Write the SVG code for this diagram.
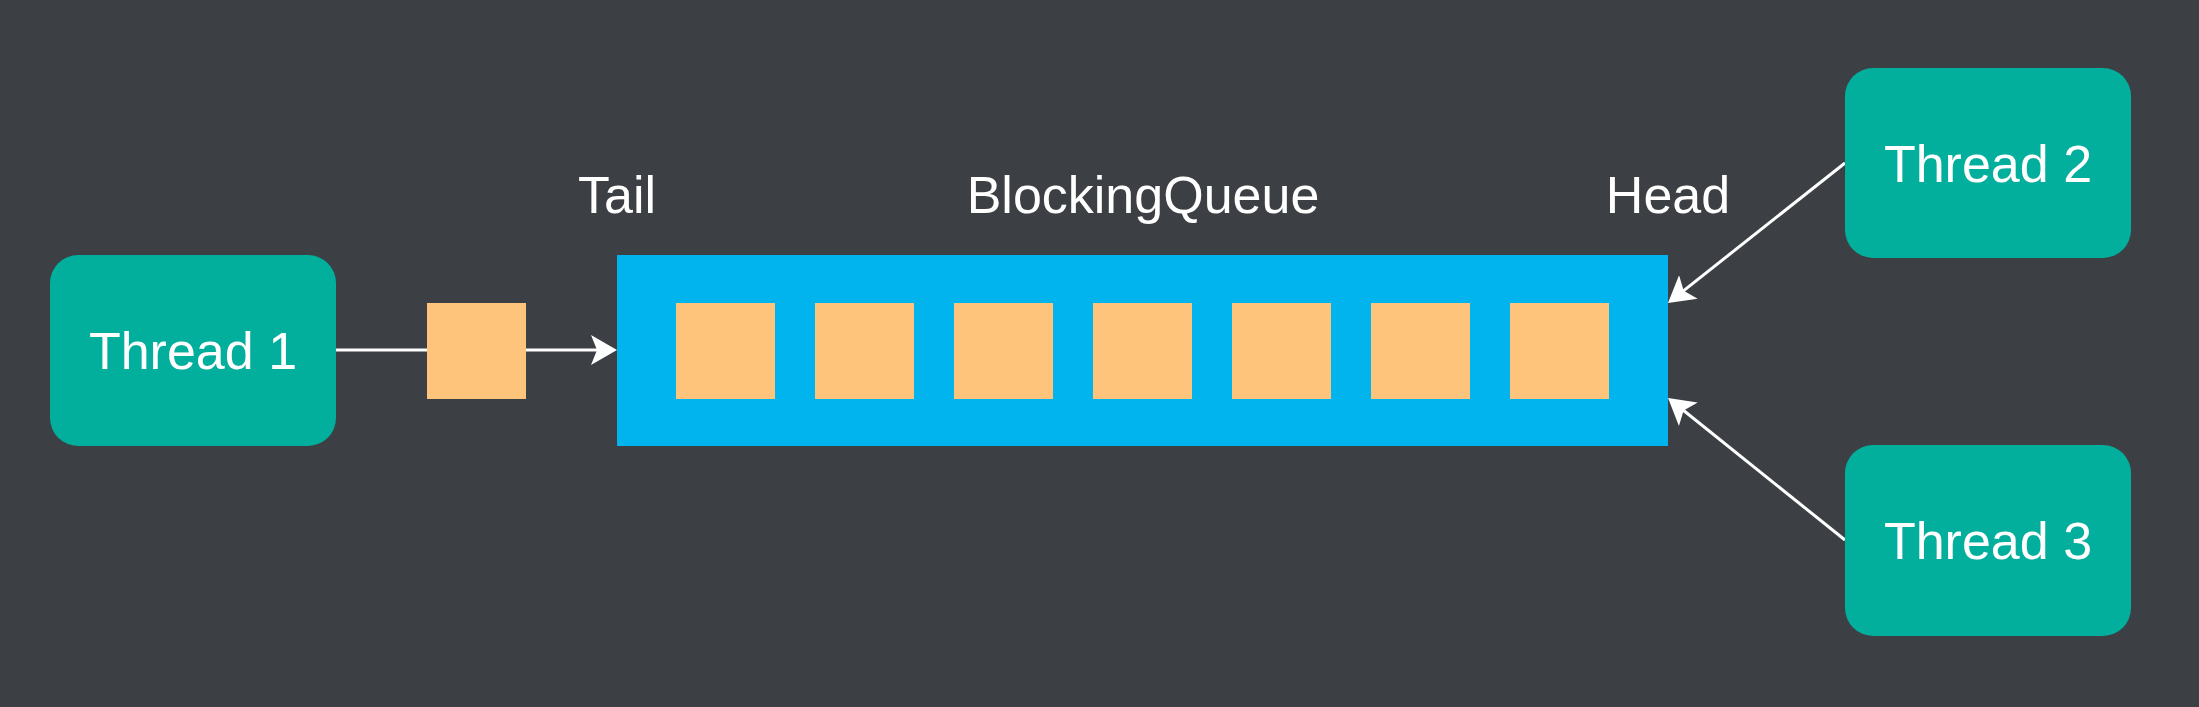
<svg xmlns="http://www.w3.org/2000/svg" width="2199" height="707" viewBox="0 0 2199 707">
  <style>
    .thread { fill: #02AE9C; }
    .item { fill: #FFC47C; }
    .queue { fill: #02B4EE; }
    .lbl { font-family: "Liberation Sans", Arial, sans-serif; font-size: 52px; fill: #ffffff; text-anchor: middle; }
    .conn { stroke: #ffffff; stroke-width: 3; fill: none; }
  </style>
  <defs>
    <marker id="arrow" markerUnits="userSpaceOnUse" viewBox="0 0 26 30" markerWidth="26" markerHeight="30" refX="14" refY="15" orient="auto">
      <path d="M0,0 L26,15 L0,30 L6,15 Z" fill="#ffffff"/>
    </marker>
  </defs>
  <rect x="0" y="0" width="2199" height="707" fill="#3C3F43"/>

  <g id="connectors">
    <path class="conn" d="M336,350 L605,350" marker-end="url(#arrow)"/>
    <path class="conn" d="M1845,163 L1677.4,295.6" marker-end="url(#arrow)"/>
    <path class="conn" d="M1845,540 L1677.4,405.5" marker-end="url(#arrow)"/>
  </g>

  <g id="thread1">
    <rect class="thread" x="50" y="255" width="286" height="191" rx="28" ry="28"/>
    <text class="lbl" x="193" y="369">Thread 1</text>
  </g>

  <g id="item-in-transit">
    <rect class="item" x="427" y="303" width="99" height="96"/>
  </g>

  <g id="blocking-queue">
    <rect class="queue" x="617" y="255" width="1051" height="191"/>
    <rect class="item" x="676" y="303" width="99" height="96"/>
    <rect class="item" x="815" y="303" width="99" height="96"/>
    <rect class="item" x="954" y="303" width="99" height="96"/>
    <rect class="item" x="1093" y="303" width="99" height="96"/>
    <rect class="item" x="1232" y="303" width="99" height="96"/>
    <rect class="item" x="1371" y="303" width="99" height="96"/>
    <rect class="item" x="1510" y="303" width="99" height="96"/>
  </g>

  <g id="labels">
    <text class="lbl" x="617" y="213">Tail</text>
    <text class="lbl" x="1143" y="213">BlockingQueue</text>
    <text class="lbl" x="1668" y="213">Head</text>
  </g>

  <g id="thread2">
    <rect class="thread" x="1845" y="68" width="286" height="190" rx="28" ry="28"/>
    <text class="lbl" x="1988" y="182">Thread 2</text>
  </g>

  <g id="thread3">
    <rect class="thread" x="1845" y="445" width="286" height="191" rx="28" ry="28"/>
    <text class="lbl" x="1988" y="559">Thread 3</text>
  </g>
</svg>
